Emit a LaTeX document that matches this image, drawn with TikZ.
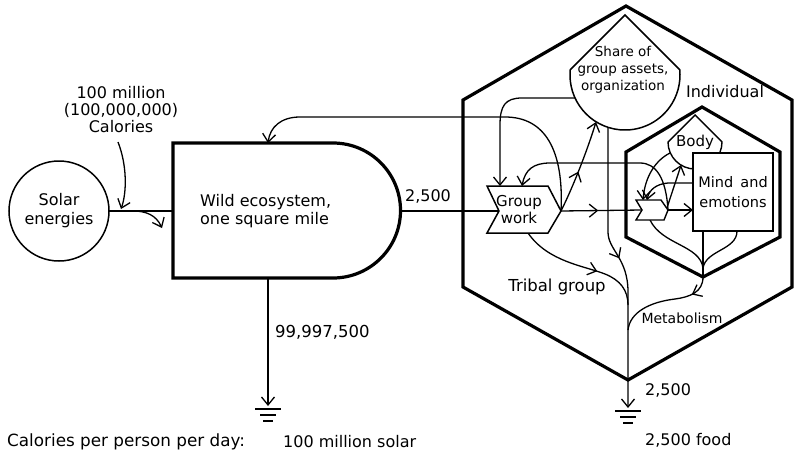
\documentclass[tikz,border=0pt]{standalone}
\usepackage{fontspec}
\setmainfont{DejaVu Sans}
\usetikzlibrary{arrows.meta,decorations.markings}

\tikzset{
  heavy/.style={line width=3.2pt, line join=miter},
  flow/.style={line width=1.3pt},
  lbl/.style={inner sep=0pt, font=\fontsize{16}{18}\selectfont},
  small/.style={inner sep=0pt, font=\fontsize{13.5}{17}\selectfont},
  midarrow/.style={postaction={decorate,decoration={markings,mark=at position #1 with {\arrow{>}}}}},
  earth/.pic={\draw[line width=1.3pt] (-13,0) -- (13,0) (-8,6) -- (8,6) (-5,12) -- (5,12);}
}

\begin{document}
\begin{tikzpicture}[x=1pt,y=-1pt,>={Straight Barb[length=8pt,width=13pt]}]
\useasboundingbox (0,0) rectangle (794,455);

% ---------- outer consumer: tribal group ----------
\draw[heavy] (626,6) -- (792,100) -- (792,287) -- (628,380) -- (463,287) -- (463,100) -- cycle;

% ---------- inner consumer: individual ----------
\draw[heavy] (702,107) -- (780,152) -- (780,237) -- (703,277) -- (626,237) -- (626,152) -- cycle;

% ---------- named points ----------
\coordinate (ecoW) at (173,211);
\coordinate (ecoE) at (400,211);
\coordinate (ecoN) at (268,143);
\coordinate (ecoS) at (268,278);
\coordinate (calTop) at (118,142);
\coordinate (calTip) at (121,209);
\coordinate (splitA) at (133,211);
\coordinate (splitTip) at (162,228);
\coordinate (gndLtip) at (268,406);
\coordinate (gndL) at (268,409);
\coordinate (gndRtip) at (628,408);
\coordinate (gndR) at (628,411);
\coordinate (gwW) at (499,211);
\coordinate (gwE) at (561,211);
\coordinate (gwN1) at (500,186);
\coordinate (gwN2) at (522,186);
\coordinate (gwS) at (528,233);
\coordinate (shareW) at (575,98);
\coordinate (shareS1) at (596,122);
\coordinate (shareS2) at (608,127);
\coordinate (smW) at (642,210);
\coordinate (smE) at (668,210);
\coordinate (smN1) at (643,200);
\coordinate (smN2) at (647,200);
\coordinate (smS) at (650,220);
\coordinate (bodyW) at (670,153);
\coordinate (bodyS) at (681,165);
\coordinate (mindW) at (693,183);
\coordinate (mindWi) at (693,210);
\coordinate (mindS1) at (703,231);
\coordinate (mindS2) at (737,231);
\coordinate (indB) at (703,277);

% ---------- connectors ----------
% solar input
\draw[flow,->] (calTop) .. controls (127,165) and (127,192) .. (calTip);
\draw[flow] (109,211) -- (ecoW);
\draw[flow,->] (splitA) .. controls (146,211) and (156,215) .. (splitTip);
% ecosystem outputs
\draw[flow] (ecoE) -- (gwW);
\draw[flow,->] (ecoS) -- (gndLtip);
% feedback from group work to the ecosystem
\draw[flow,->] (gwE) .. controls (564,150) and (545,117) .. (505,117) -- (300,117)
  .. controls (281,117) and (270,127) .. (ecoN);
% group assets to group work
\draw[flow,->] (shareW) -- (522,98) .. controls (505,98) and (500,106) .. (500,125) -- (gwN1);
% group work to group assets
\draw[flow,->,midarrow=0.45] (gwE) .. controls (574,185) and (588,148) .. (shareS1);
% metabolism trunk of the tribal group
\draw[flow,->,midarrow=0.47] (shareS2) -- (608,232) .. controls (608,250) and (628,258) .. (628,292) -- (gndRtip);
\draw[flow,midarrow=0.62] (gwS) .. controls (548,262) and (585,266) .. (605,274) .. controls (620,280) and (628,290) .. (628,305);
% group work to individual
\draw[flow,midarrow=0.46] (gwE) -- (smW);
\draw[flow,->] (smE) -- (mindWi);
% individual back to group work
\draw[flow,->] (smE) .. controls (666,178) and (656,163) .. (640,163) -- (550,163)
  .. controls (533,163) and (525,170) .. (gwN2);
% body and mind into the individual's work gate
\draw[flow,->] (bodyW) .. controls (656,160) and (645,176) .. (smN1);
\draw[flow,->] (mindW) -- (668,183) .. controls (656,184) and (649,190) .. (smN2);
\draw[flow,->] (667,208) .. controls (672,192) and (677,178) .. (bodyS);
% individual's losses
\draw[flow] (smS) .. controls (662,245) and (700,245) .. (703,268);
\draw[flow] (mindS1) -- (indB);
\draw[flow] (mindS2) .. controls (737,250) and (706,250) .. (703,268);
\draw[flow,midarrow=0.22] (indB) .. controls (703,292) and (690,297) .. (675,299)
  .. controls (650,302) and (630,312) .. (628,330);

% ---------- ground sinks ----------
\pic at (gndL) {earth};
\pic at (gndR) {earth};

% ---------- shapes ----------
\node[circle, draw, line width=1.5pt, minimum size=100pt, inner sep=0pt, align=center,
      font=\fontsize{16}{19}\selectfont] (solar) at (59,211) {Solar\\energies};

\draw[heavy, fill=white] (173,143) -- (333,143) arc[start angle=-90, end angle=90, radius=67.5]
  -- (173,278) -- cycle;
\node[lbl, align=left, anchor=west] (eco) at (200,211) {Wild ecosystem,\\one square mile};

\draw[line width=1.5pt, fill=white] (625,15) -- (570.25,69.75)
  arc[start angle=185.5, end angle=-5.5, radius=55] -- cycle;
\node[small, align=center] (share) at (623,70) {Share of\\group assets,\\organization};

\draw[line width=1.5pt, fill=white] (487,186) -- (548,186) -- (561,211) -- (548,233)
  -- (487,233) -- (499,211) -- cycle;
\node[align=center, inner sep=0pt, font=\fontsize{15}{17}\selectfont] (gw) at (519,210) {Group\\work};

\draw[line width=1.4pt, fill=white] (636,200) -- (661,200) -- (668,210) -- (664,220)
  -- (636,220) -- (642,210) -- cycle;

\draw[line width=1.4pt] (695,115) -- (668,142) arc[start angle=180, end angle=0, radius=27] -- cycle;
\node[inner sep=0pt, font=\fontsize{15}{16}\selectfont] (body) at (695,142) {Body};

\node[draw, fill=white, line width=2.4pt, minimum width=80pt, minimum height=78pt, inner sep=0pt,
      align=center, font=\fontsize{14.5}{20}\selectfont] (mind) at (733,192) {Mind\enspace and\\emotions};

% ---------- labels ----------
\node[lbl, align=center, font=\fontsize{16}{17}\selectfont] (cal) at (121,110) {100 million\\(100,000,000)\\Calories};
\node[lbl] (flowA) at (428,196) {2,500};
\node[lbl, anchor=west, font=\fontsize{16.5}{18}\selectfont] (flowB) at (275,332) {99,997,500};
\node[lbl, anchor=west] (flowC) at (645,390) {2,500};
\node[lbl] (indiv) at (725,92) {Individual};
\node[lbl, font=\fontsize{16.5}{18}\selectfont] (tribal) at (557,287) {Tribal group};
\node[inner sep=0pt, font=\fontsize{14}{16}\selectfont] (metab) at (682,318) {Metabolism};
\node[lbl, anchor=west, font=\fontsize{16.8}{18}\selectfont] (perday) at (7,442) {Calories per person per day:};
\node[lbl, anchor=west] (solarday) at (283,442) {100 million solar};
\node[lbl, anchor=west] (foodday) at (645,440) {2,500 food};
\end{tikzpicture}
\end{document}
